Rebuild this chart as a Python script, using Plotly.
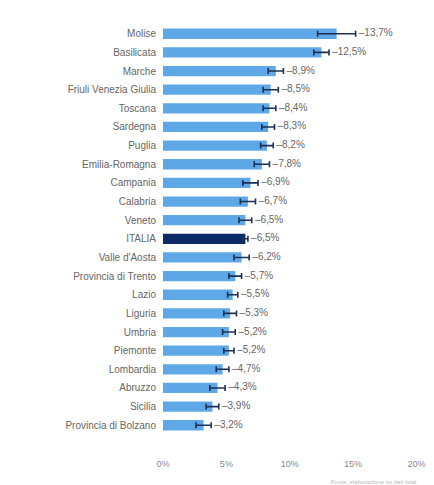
import plotly.graph_objects as go

regions = ["Molise", "Basilicata", "Marche", "Friuli Venezia Giulia", "Toscana",
           "Sardegna", "Puglia", "Emilia-Romagna", "Campania", "Calabria", "Veneto",
           "ITALIA", "Valle d'Aosta", "Provincia di Trento", "Lazio", "Liguria",
           "Umbria", "Piemonte", "Lombardia", "Abruzzo", "Sicilia", "Provincia di Bolzano"]
values = [13.7, 12.5, 8.9, 8.5, 8.4, 8.3, 8.2, 7.8, 6.9, 6.7, 6.5,
          6.5, 6.2, 5.7, 5.5, 5.3, 5.2, 5.2, 4.7, 4.3, 3.9, 3.2]
errors = [1.5, 0.6, 0.6, 0.6, 0.5, 0.5, 0.5, 0.6, 0.6, 0.6, 0.5,
          0.2, 0.6, 0.5, 0.4, 0.5, 0.5, 0.4, 0.5, 0.6, 0.5, 0.6]
x_ticks = [0, 5, 10, 15, 20]
x_tick_labels = ["0%", "5%", "10%", "15%", "20%"]
source_note = "Fonte: elaborazione su dati Istat"

bar_colors = ["#0b2a66" if r == "ITALIA" else "#5ea8e8" for r in regions]
label_x = [v + e + 0.25 for v, e in zip(values, errors)]
labels = [f"\u2012{v:.1f}%".replace(".", ",") for v in values]

fig = go.Figure()
fig.add_trace(go.Bar(
    x=values, y=regions, orientation="h",
    marker=dict(color=bar_colors, line=dict(width=0)),
    width=0.55,
    error_x=dict(type="data", array=errors, color="#1c2f55", thickness=1.6, width=3),
    hoverinfo="skip",
))
fig.add_trace(go.Scatter(
    x=label_x, y=regions, mode="text", text=labels,
    textposition="middle right",
    textfont=dict(size=10, color="#666666", family="Liberation Sans, Arial, sans-serif"),
    hoverinfo="skip", cliponaxis=False,
))

fig.update_layout(
    width=434, height=485,
    margin=dict(l=163, r=9, t=12, b=38),
    paper_bgcolor="white", plot_bgcolor="white",
    showlegend=False,
    font=dict(family="Liberation Sans, Arial, sans-serif", size=10, color="#666666"),
    xaxis=dict(range=[0, 20.2], tickvals=x_ticks, ticktext=x_tick_labels,
               showgrid=False, zeroline=False, showline=False,
               ticks="", tickfont=dict(size=9, color="#888888"), ticklabelstandoff=10),
    yaxis=dict(autorange="reversed", showgrid=False, showline=False, ticks="",
               tickfont=dict(size=10, color="#666666"), ticklabelstandoff=6),
    annotations=[dict(text=source_note, x=1, y=0, xref="paper", yref="paper",
                      xanchor="right", yanchor="top", yshift=-30, showarrow=False,
                      font=dict(size=6, color="#bbbbbb"))],
)

fig.write_html("out.html")
